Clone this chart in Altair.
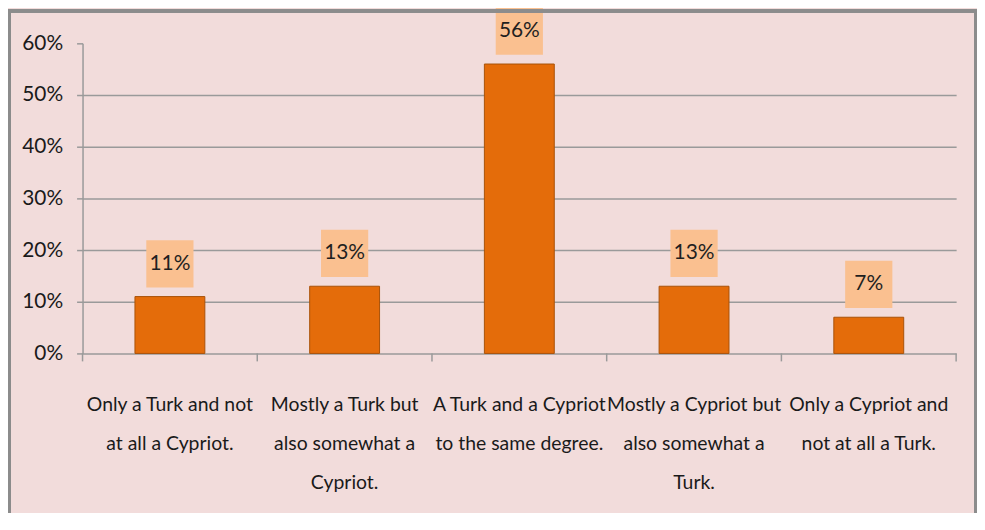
import altair as alt
import pandas as pd

categories = [
    "Only a Turk and not|at all a Cypriot.",
    "Mostly a Turk but|also somewhat a|Cypriot.",
    "A Turk and a Cypriot|to the same degree.",
    "Mostly a Cypriot but|also somewhat a|Turk.",
    "Only a Cypriot and|not at all a Turk.",
]
values = [0.11, 0.13, 0.56, 0.13, 0.07]
y_ticks = [0, 0.1, 0.2, 0.3, 0.4, 0.5, 0.6]
boundaries = [0, 1, 2, 3, 4, 5]

FONT = "Lato, Liberation Sans, sans-serif"
W, H = 879, 312
PAD = {"left": 75, "top": 34, "right": 21, "bottom": 159}

df = pd.DataFrame({"category": categories, "value": values})
bdf = pd.DataFrame({"b": boundaries})

xenc = alt.X(
    "category:N",
    sort=categories,
    scale=alt.Scale(paddingInner=0.6, paddingOuter=0.3),
    axis=alt.Axis(
        title=None, labelAngle=0, ticks=False, tickSize=0, domain=False,
        labelExpr="split(datum.label, '|')", labelFont=FONT, labelFontSize=19.5,
        labelLineHeight=39.5, labelPadding=42, labelColor="#1a1a1a", labelLimit=220,
    ),
)
yenc = alt.Y(
    "value:Q",
    scale=alt.Scale(domain=[0, 0.6], nice=False),
    axis=alt.Axis(
        title=None, format="%", values=y_ticks, tickSize=6, tickColor="#9a9a9a",
        tickWidth=1.5, domainColor="#9a9a9a", domainWidth=1.5, labelPadding=14,
        labelFont=FONT, labelFontSize=21, labelColor="#1a1a1a",
        grid=True, gridColor="#9a9a9a", gridWidth=1.5,
        gridOpacity=alt.condition("datum.value > 0.55", alt.value(0), alt.value(1)),
    ),
)

bars = alt.Chart(df).mark_bar(
    color="#e46c0a", stroke="#a85209", strokeWidth=1
).encode(x=xenc, y=yenc)

boxes = alt.Chart(df).mark_square(
    size=48 * 47, color="#fac090", opacity=1, yOffset=-33
).encode(x=alt.X("category:N", sort=categories), y="value:Q")

texts = alt.Chart(df).mark_text(
    font=FONT, fontSize=21, color="#1f1f1f", yOffset=-33, baseline="middle"
).encode(x=alt.X("category:N", sort=categories), y="value:Q",
         text=alt.Text("value:Q", format=".0%"))

main = alt.layer(bars, boxes, texts)

ticks = alt.Chart(bdf).mark_rule(color="#9a9a9a", strokeWidth=1.5).encode(
    x=alt.X("b:Q", scale=alt.Scale(domain=[0, 5], nice=False), axis=None),
    y=alt.value(H),
    y2=alt.value(H + 8),
)

frame = alt.Chart(bdf).mark_rect(
    filled=False, stroke="#8c8c8c", strokeWidth=3
).encode(
    x=alt.value(-PAD["left"] + 1.5),
    x2=alt.value(W + PAD["right"] - 1.5),
    y=alt.value(-PAD["top"] + 1.5),
    y2=alt.value(H + PAD["bottom"] + 10),
)

chart = alt.layer(main, ticks, frame).resolve_scale(x="independent").properties(
    width=W, height=H,
    autosize=alt.AutoSizeParams(type="none"),
    padding=PAD,
    background="#f2dcdb",
).configure_view(stroke=None)

chart.save("out.html", embed_options={"renderer": "svg", "actions": False})
